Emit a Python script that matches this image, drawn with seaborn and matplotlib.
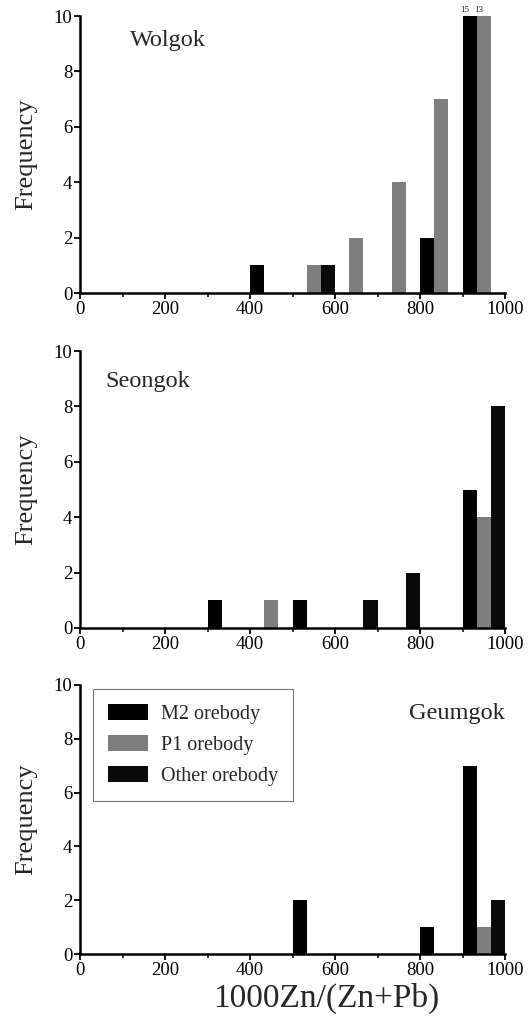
import numpy as np
import pandas as pd
import matplotlib
matplotlib.use('Agg')
import matplotlib.pyplot as plt
import seaborn as sns
from matplotlib.patches import Patch

# bin starts (width 100) and counts per orebody
orebodies = ['M2 orebody', 'P1 orebody', 'Other orebody']

wolgok_m2_bins = [400, 800, 900]
wolgok_m2_counts = [1, 2, 15]
wolgok_p1_bins = [500, 600, 700, 800, 900]
wolgok_p1_counts = [1, 2, 4, 7, 13]
wolgok_other_bins = [500]
wolgok_other_counts = [1]

seongok_m2_bins = [300, 500, 900]
seongok_m2_counts = [1, 1, 5]
seongok_p1_bins = [400, 900]
seongok_p1_counts = [1, 4]
seongok_other_bins = [600, 700, 900]
seongok_other_counts = [1, 2, 8]

geumgok_m2_bins = [500, 800, 900]
geumgok_m2_counts = [2, 1, 7]
geumgok_p1_bins = [900]
geumgok_p1_counts = [1]
geumgok_other_bins = [900]
geumgok_other_counts = [2]

clipped_labels = ['15', '13']


def make_df(m2, p1, other):
    rows = []
    for name, (bins, counts) in zip(orebodies, [m2, p1, other]):
        for b, c in zip(bins, counts):
            rows.append({'ratio': b + 50, 'count': c, 'orebody': name})
    return pd.DataFrame(rows)


panels = [
    ('Wolgok', make_df((wolgok_m2_bins, wolgok_m2_counts),
                       (wolgok_p1_bins, wolgok_p1_counts),
                       (wolgok_other_bins, wolgok_other_counts))),
    ('Seongok', make_df((seongok_m2_bins, seongok_m2_counts),
                        (seongok_p1_bins, seongok_p1_counts),
                        (seongok_other_bins, seongok_other_counts))),
    ('Geumgok', make_df((geumgok_m2_bins, geumgok_m2_counts),
                        (geumgok_p1_bins, geumgok_p1_counts),
                        (geumgok_other_bins, geumgok_other_counts))),
]

palette = {'M2 orebody': '#000000', 'P1 orebody': '#7e7e7e', 'Other orebody': '#0a0a0a'}

sns.set_style('ticks')
plt.rcParams['font.family'] = ['Liberation Serif', 'DejaVu Serif']

fig = plt.figure(figsize=(5.3, 10.16), dpi=100)
# axes rectangles in figure fraction
rects = [
    [0.151, 0.7116, 0.802, 0.2726],
    [0.151, 0.3819, 0.802, 0.2726],
    [0.151, 0.0610, 0.802, 0.2648],
]

for (name, df), rect in zip(panels, rects):
    ax = fig.add_axes(rect)
    sns.histplot(data=df, x='ratio', weights='count', hue='orebody',
                 hue_order=orebodies, binwidth=100, binrange=(0, 1000),
                 multiple='dodge', shrink=1, palette=palette, alpha=1,
                 linewidth=0, legend=False, ax=ax)
    ax.set_xlim(0, 1000)
    ax.set_ylim(0, 10)
    ax.set_xticks(np.arange(0, 1001, 200))
    ax.set_xticks(np.arange(100, 1000, 200), minor=True)
    ax.set_yticks(np.arange(0, 11, 2))
    ax.tick_params(axis='both', which='major', labelsize=13.5, length=4,
                   width=1.3, direction='out', pad=1.5, colors='black')
    ax.tick_params(axis='x', which='minor', length=3, width=1.3, direction='out')
    ax.set_ylabel('Frequency', fontsize=19, labelpad=12)
    ax.set_xlabel('')
    for side in ['top', 'right']:
        ax.spines[side].set_visible(False)
    for side in ['left', 'bottom']:
        ax.spines[side].set_linewidth(1.8)
        ax.spines[side].set_color('black')

    if name == 'Wolgok':
        ax.text(118, 9.1, name, fontsize=17.5, va='center', ha='left')
        ax.text(906, 10.08, clipped_labels[0], fontsize=6.5, ha='center', va='bottom')
        ax.text(937, 10.08, clipped_labels[1], fontsize=6.5, ha='center', va='bottom')
    elif name == 'Seongok':
        ax.text(59, 8.9, name, fontsize=17.5, va='center', ha='left')
    else:
        ax.text(1000, 8.95, name, fontsize=17.5, va='center', ha='right')
        handles = [Patch(facecolor=palette[o], edgecolor='none') for o in orebodies]
        leg = ax.legend(handles, orebodies, loc='upper left',
                        bbox_to_anchor=(0.031, 0.985), borderaxespad=0,
                        fontsize=14.5, frameon=True, fancybox=False,
                        edgecolor='#555555', handlelength=1.95,
                        handleheight=0.85, borderpad=0.75,
                        labelspacing=0.55, handletextpad=0.65)
        leg.get_frame().set_linewidth(0.8)
        ax.set_xlabel('1000Zn/(Zn+Pb)', fontsize=24)
        ax.xaxis.set_label_coords(0.579, -0.105)

fig.savefig('out.png', dpi=100)
